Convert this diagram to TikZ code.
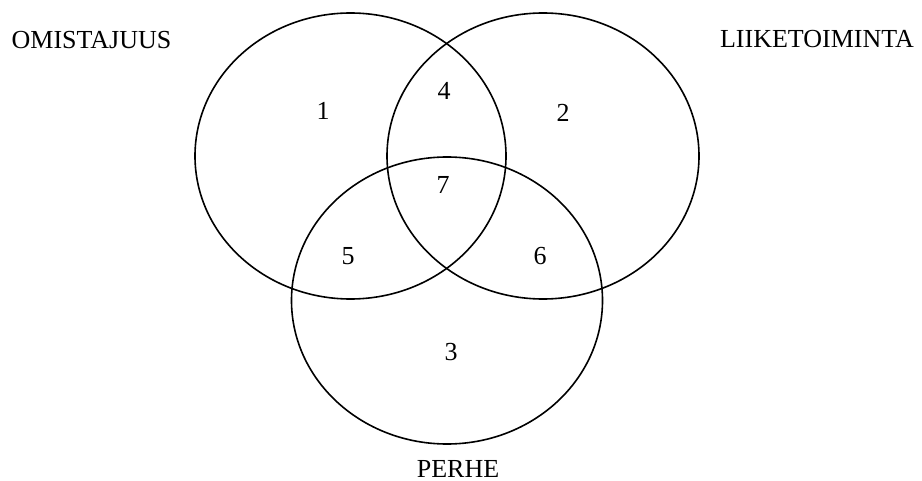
\documentclass[tikz,border=0pt]{standalone}
\usepackage{fontspec}
\setmainfont{Liberation Serif}
\usepackage{tikz}
\tikzset{
  set/.style={line width=0.8pt},
  lbl/.style={font=\fontsize{13}{15}\selectfont, inner sep=0pt}
}

\begin{document}
\begin{tikzpicture}[x=0.5pt, y=-0.5pt]
    \useasboundingbox (0,0) rectangle (922,481);
    \draw[set] (350.5,156) ellipse [x radius=155.5, y radius=143];
    \draw[set] (543,156) ellipse [x radius=156, y radius=143];
    \draw[set] (447,300.5) ellipse [x radius=155.5, y radius=143.5];

    \node[lbl] (omistajuus) at (91.5,40) {OMISTAJUUS};
    \node[lbl] (liiketoiminta) at (817,39) {LIIKETOIMINTA};
    \node[lbl] (perhe) at (458,469) {PERHE};

    \node[lbl] (n1) at (323,111) {1};
    \node[lbl] (n2) at (563,113) {2};
    \node[lbl] (n3) at (451,352) {3};
    \node[lbl] (n4) at (444,90.5) {4};
    \node[lbl] (n5) at (348,256) {5};
    \node[lbl] (n6) at (540,256) {6};
    \node[lbl] (n7) at (443,185) {7};
  \end{tikzpicture}
\end{document}
